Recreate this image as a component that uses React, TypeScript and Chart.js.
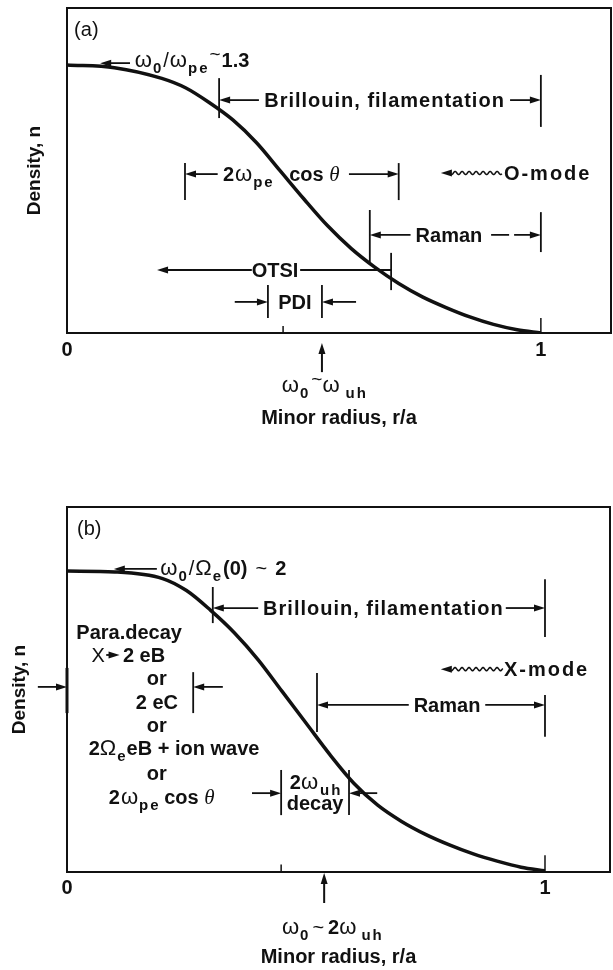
import React, { useEffect, useRef } from 'react';
import { Chart, registerables } from 'chart.js';

Chart.register(...registerables);

const SANS = '"Liberation Sans", Arial, sans-serif';

// ---------- data ----------
const radius = [0, 0.1, 0.2, 0.25, 0.3, 0.35, 0.4, 0.45, 0.5, 0.55, 0.6, 0.65, 0.7, 0.75, 0.8, 0.85, 0.9, 0.95, 1.0];
const densityA = [1.0, 0.99, 0.95, 0.915, 0.86, 0.795, 0.71, 0.605, 0.5, 0.4, 0.315, 0.245, 0.185, 0.135, 0.095, 0.06, 0.032, 0.012, 0.0];
const densityB = [1.0, 0.997, 0.975, 0.935, 0.87, 0.795, 0.705, 0.6, 0.495, 0.39, 0.295, 0.222, 0.168, 0.125, 0.09, 0.06, 0.036, 0.016, 0.004];
const xTickValues = [0, 1];
const xTickLabels = ['0', '1'];
const xTitle = 'Minor radius, r/a';
const yTitle = 'Density, n';
const Y_MAX = 1.2127;

type K = 'b' | 'n' | 'g' | 'sub' | 'til' | 'th';
type Part = { t: string; k?: K; pre?: number; ls?: number };
type Item =
  | { type: 'text'; r: number; n: number; parts: Part[]; align?: 'left' | 'center'; ls?: number }
  | { type: 'bar'; r: number; n0: number; n1: number; w?: number }
  | { type: 'arrow'; r0: number; r1: number; n: number; dash?: boolean }
  | { type: 'line'; r0: number; r1: number; n: number }
  | { type: 'varrow'; r: number; n0: number; n1: number }
  | { type: 'wave'; r0: number; r1: number; n: number }
  | { type: 'tick'; r: number; n: number };

const T = (t: string, k: K = 'b', pre?: number): Part => ({ t, k, pre });

// ---------- annotations (data coordinates) ----------
const annotationsA: Item[] = [
  { type: 'text', r: 0.015, n: 1.134, align: 'left', parts: [T('(a)', 'n')] },
  { type: 'arrow', r0: 0.133, r1: 0.07, n: 1.007 },
  { type: 'text', r: 0.143, n: 1.019, align: 'left', parts: [T('ω', 'g'), T('0', 'sub'), T('/', 'n', 2), T('ω', 'g', 1), T('pe', 'sub'), T('~', 'til', 2), T('1.3', 'b', 1)] },
  { type: 'bar', r: 0.321, n0: 0.802, n1: 0.951 },
  { type: 'bar', r: 1.0, n0: 0.769, n1: 0.963 },
  { type: 'arrow', r0: 0.405, r1: 0.321, n: 0.869 },
  { type: 'text', r: 0.669, n: 0.869, ls: 1, parts: [T('Brillouin, filamentation')] },
  { type: 'arrow', r0: 0.935, r1: 1.0, n: 0.869 },
  { type: 'bar', r: 0.249, n0: 0.496, n1: 0.634 },
  { type: 'bar', r: 0.70, n0: 0.496, n1: 0.634 },
  { type: 'arrow', r0: 0.318, r1: 0.249, n: 0.593 },
  { type: 'text', r: 0.329, n: 0.593, align: 'left', parts: [T('2'), T('ω', 'g', 1), T('pe', 'sub')] },
  { type: 'text', r: 0.469, n: 0.593, align: 'left', parts: [T('cos '), T('θ', 'th')] },
  { type: 'arrow', r0: 0.595, r1: 0.70, n: 0.593 },
  { type: 'wave', r0: 0.789, r1: 0.918, n: 0.597 },
  { type: 'text', r: 0.922, n: 0.597, align: 'left', ls: 2, parts: [T('O-mode')] },
  { type: 'bar', r: 0.639, n0: 0.265, n1: 0.459 },
  { type: 'bar', r: 1.0, n0: 0.302, n1: 0.451 },
  { type: 'arrow', r0: 0.725, r1: 0.639, n: 0.366 },
  { type: 'text', r: 0.806, n: 0.366, parts: [T('Raman')] },
  { type: 'arrow', r0: 0.895, r1: 1.0, n: 0.366, dash: true },
  { type: 'arrow', r0: 0.39, r1: 0.19, n: 0.235 },
  { type: 'text', r: 0.439, n: 0.235, parts: [T('OTSI')] },
  { type: 'line', r0: 0.492, r1: 0.684, n: 0.235 },
  { type: 'bar', r: 0.684, n0: 0.16, n1: 0.299 },
  { type: 'bar', r: 0.424, n0: 0.056, n1: 0.179 },
  { type: 'bar', r: 0.538, n0: 0.056, n1: 0.179 },
  { type: 'arrow', r0: 0.354, r1: 0.424, n: 0.116 },
  { type: 'arrow', r0: 0.61, r1: 0.538, n: 0.116 },
  { type: 'text', r: 0.481, n: 0.116, parts: [T('PDI')] },
  { type: 'tick', r: 0.456, n: 0.026 },
  { type: 'tick', r: 1.0, n: 0.056 },
  { type: 'varrow', r: 0.538, n0: -0.146, n1: -0.037 },
  { type: 'text', r: 0.542, n: -0.194, parts: [T('ω', 'g'), T('0', 'sub'), T('~', 'til', 3), T('ω', 'g'), T('uh', 'sub', 6)] },
];

const annotationsB: Item[] = [
  { type: 'text', r: 0.021, n: 1.143, align: 'left', parts: [T('(b)', 'n')] },
  { type: 'arrow', r0: 0.188, r1: 0.098, n: 1.007 },
  { type: 'text', r: 0.195, n: 1.01, align: 'left', parts: [T('ω', 'g'), T('0', 'sub'), T('/', 'n', 2), T('Ω', 'g', 1), T('e', 'sub'), T('(0)', 'b', 2), T('~', 'n', 8), T('2', 'b', 8)] },
  { type: 'bar', r: 0.305, n0: 0.827, n1: 0.947 },
  { type: 'bar', r: 1.0, n0: 0.781, n1: 0.973 },
  { type: 'arrow', r0: 0.4, r1: 0.305, n: 0.877 },
  { type: 'text', r: 0.661, n: 0.877, ls: 1, parts: [T('Brillouin, filamentation')] },
  { type: 'arrow', r0: 0.918, r1: 1.0, n: 0.877 },
  { type: 'text', r: 0.13, n: 0.797, parts: [T('Para.decay')] },
  { type: 'text', r: 0.065, n: 0.721, parts: [T('X', 'n')] },
  { type: 'arrow', r0: 0.082, r1: 0.11, n: 0.721 },
  { type: 'text', r: 0.117, n: 0.721, align: 'left', parts: [T('2 eB')] },
  { type: 'text', r: 0.188, n: 0.645, parts: [T('or')] },
  { type: 'text', r: 0.188, n: 0.565, parts: [T('2 eC')] },
  { type: 'text', r: 0.188, n: 0.488, parts: [T('or')] },
  { type: 'text', r: 0.224, n: 0.412, parts: [T('2'), T('Ω', 'g'), T('e', 'sub'), T('eB + ion wave', 'b', 1)] },
  { type: 'text', r: 0.188, n: 0.329, parts: [T('or')] },
  { type: 'text', r: 0.198, n: 0.249, parts: [T('2'), T('ω', 'g', 1), T('pe', 'sub'), T(' cos '), T('θ', 'th')] },
  { type: 'bar', r: 0, n0: 0.528, n1: 0.678, w: 3 },
  { type: 'arrow', r0: -0.061, r1: 0, n: 0.615 },
  { type: 'bar', r: 0.264, n0: 0.528, n1: 0.664 },
  { type: 'arrow', r0: 0.326, r1: 0.264, n: 0.615 },
  { type: 'wave', r0: 0.782, r1: 0.912, n: 0.674 },
  { type: 'text', r: 0.914, n: 0.674, align: 'left', ls: 2, parts: [T('X-mode')] },
  { type: 'bar', r: 0.523, n0: 0.465, n1: 0.661 },
  { type: 'bar', r: 1.0, n0: 0.449, n1: 0.588 },
  { type: 'arrow', r0: 0.715, r1: 0.523, n: 0.555 },
  { type: 'text', r: 0.795, n: 0.555, parts: [T('Raman')] },
  { type: 'arrow', r0: 0.875, r1: 1.0, n: 0.555 },
  { type: 'bar', r: 0.448, n0: 0.189, n1: 0.339 },
  { type: 'bar', r: 0.59, n0: 0.189, n1: 0.339 },
  { type: 'arrow', r0: 0.387, r1: 0.448, n: 0.262 },
  { type: 'arrow', r0: 0.649, r1: 0.59, n: 0.262 },
  { type: 'text', r: 0.519, n: 0.299, parts: [T('2'), T('ω', 'g'), T('uh', 'sub', 2)] },
  { type: 'text', r: 0.519, n: 0.229, parts: [T('decay')] },
  { type: 'tick', r: 0.448, n: 0.025 },
  { type: 'tick', r: 1.0, n: 0.056 },
  { type: 'varrow', r: 0.538, n0: -0.103, n1: -0.003 },
  { type: 'text', r: 0.554, n: -0.183, parts: [T('ω', 'g'), T('0', 'sub'), T('~', 'n', 4), T('2', 'b', 4), T('ω', 'g'), T('uh', 'sub', 5)] },
];

// ---------- drawing helpers ----------
function fontFor(k?: K) {
  switch (k) {
    case 'n': return `20px ${SANS}`;
    case 'g': return `22px ${SANS}`;
    case 'sub': return `bold 15px ${SANS}`;
    case 'til': return `19px ${SANS}`;
    case 'th': return `italic 21px "Liberation Serif", serif`;
    default: return `bold 20px ${SANS}`;
  }
}
function dyFor(k?: K) {
  if (k === 'sub') return 6;
  if (k === 'til') return -7;
  return 0;
}

function partLayout(ctx: CanvasRenderingContext2D, p: Part, itemLs: number) {
  ctx.font = fontFor(p.k);
  const ls = p.ls ?? (p.k === 'sub' ? 2 : itemLs);
  const pre = p.pre ?? (p.k === 'sub' ? 1 : 0);
  const chars = Array.from(p.t);
  const cw = chars.map((c) => ctx.measureText(c).width);
  const w = ls === 0 ? ctx.measureText(p.t).width : cw.reduce((s, v) => s + v, 0) + ls * (chars.length - 1);
  return { ls, pre, chars, cw, w };
}

function drawRich(ctx: CanvasRenderingContext2D, x: number, yc: number, parts: Part[], align: 'left' | 'center', itemLs = 0) {
  const lay = parts.map((p) => partLayout(ctx, p, itemLs));
  const total = lay.reduce((s, l) => s + l.pre + l.w, 0);
  let cx = align === 'center' ? x - total / 2 : x;
  const base = yc + 7;
  ctx.textAlign = 'left';
  ctx.textBaseline = 'alphabetic';
  parts.forEach((p, i) => {
    const l = lay[i];
    ctx.font = fontFor(p.k);
    cx += l.pre;
    if (l.ls === 0) {
      ctx.fillText(p.t, cx, base + dyFor(p.k));
    } else {
      let px = cx;
      l.chars.forEach((c, j) => {
        ctx.fillText(c, px, base + dyFor(p.k));
        px += l.cw[j] + l.ls;
      });
    }
    cx += l.w;
  });
}

function head(ctx: CanvasRenderingContext2D, tx: number, ty: number, dx: number, dy: number) {
  const L = 11, W = 3.5;
  const bx = tx - dx * L, by = ty - dy * L;
  ctx.beginPath();
  ctx.moveTo(tx, ty);
  ctx.lineTo(bx - dy * W, by + dx * W);
  ctx.lineTo(bx + dy * W, by - dx * W);
  ctx.closePath();
  ctx.fill();
}

function makeAnnotPlugin(items: Item[]) {
  return {
    id: 'annots',
    afterDraw(chart: any) {
      const { ctx, chartArea: ca, scales } = chart;
      const X = (v: number) => scales.x.getPixelForValue(v);
      const Y = (v: number) => scales.y.getPixelForValue(v);
      ctx.save();
      ctx.strokeStyle = '#111';
      ctx.fillStyle = '#111';
      ctx.lineWidth = 2;
      ctx.strokeRect(ca.left, ca.top, ca.right - ca.left, ca.bottom - ca.top);
      for (const a of items) {
        ctx.setLineDash([]);
        ctx.lineWidth = 1.8;
        if (a.type === 'text') {
          drawRich(ctx, X(a.r), Y(a.n), a.parts, a.align || 'center', a.ls || 0);
        } else if (a.type === 'bar') {
          ctx.lineWidth = a.w || 1.8;
          ctx.beginPath();
          ctx.moveTo(X(a.r), Y(a.n0));
          ctx.lineTo(X(a.r), Y(a.n1));
          ctx.stroke();
        } else if (a.type === 'tick') {
          ctx.lineWidth = 1.5;
          ctx.beginPath();
          ctx.moveTo(X(a.r), Y(0));
          ctx.lineTo(X(a.r), Y(a.n));
          ctx.stroke();
        } else if (a.type === 'arrow' || a.type === 'line') {
          const x0 = X(a.r0), x1 = X(a.r1), y = Y(a.n);
          const dir = x1 > x0 ? 1 : -1;
          if (a.type === 'arrow' && a.dash) ctx.setLineDash([18, 5]);
          ctx.beginPath();
          ctx.moveTo(x0, y);
          ctx.lineTo(a.type === 'arrow' ? x1 - dir * 8 : x1, y);
          ctx.stroke();
          ctx.setLineDash([]);
          if (a.type === 'arrow') head(ctx, x1, y, dir, 0);
        } else if (a.type === 'varrow') {
          const x = X(a.r), y0 = Y(a.n0), y1 = Y(a.n1);
          const dir = y1 > y0 ? 1 : -1;
          ctx.lineWidth = 2;
          ctx.beginPath();
          ctx.moveTo(x, y0);
          ctx.lineTo(x, y1 - dir * 8);
          ctx.stroke();
          head(ctx, x, y1, 0, dir);
        } else if (a.type === 'wave') {
          const x0 = X(a.r0), x1 = X(a.r1), y = Y(a.n);
          const dir = x1 > x0 ? 1 : -1;
          head(ctx, x0, y, -dir, 0);
          ctx.lineWidth = 1.5;
          ctx.beginPath();
          const start = x0 + dir * 9;
          const len = Math.abs(x1 - start);
          for (let t = 0; t <= len; t += 0.5) {
            const px = start + dir * t;
            const py = y + 1.6 * Math.sin((2 * Math.PI * t) / 7);
            if (t === 0) ctx.moveTo(px, py); else ctx.lineTo(px, py);
          }
          ctx.stroke();
        }
      }
      ctx.restore();
    },
  };
}

type PanelProps = {
  top: number; height: number; density: number[]; xMax: number; padTop: number; padRight: number;
  xScaleHeight: number; titlePadBottom: number; yTitlePad: number; tickPad: number; items: Item[];
};

function Panel(p: PanelProps) {
  const ref = useRef<HTMLCanvasElement>(null);
  useEffect(() => {
    const chart = new Chart(ref.current as HTMLCanvasElement, {
      type: 'line',
      data: {
        datasets: [{
          data: radius.map((r, i) => ({ x: r, y: p.density[i] })),
          borderColor: '#111',
          borderWidth: 3.5,
          pointRadius: 0,
          fill: false,
          cubicInterpolationMode: 'monotone',
        }],
      },
      options: {
        animation: false,
        responsive: false,
        devicePixelRatio: 1,
        layout: { padding: { top: p.padTop, right: p.padRight, left: 0, bottom: 0 } },
        plugins: { legend: { display: false }, tooltip: { enabled: false } },
        scales: {
          x: {
            type: 'linear', min: 0, max: p.xMax,
            afterBuildTicks: (s: any) => { s.ticks = xTickValues.map((v) => ({ value: v })); },
            afterFit: (s: any) => { s.height = p.xScaleHeight; },
            grid: { display: false, drawTicks: false },
            border: { display: false },
            ticks: {
              color: '#111', padding: p.tickPad, maxRotation: 0, autoSkip: false,
              font: { family: SANS, size: 20, weight: 'bold' },
              callback: (v: any) => xTickLabels[xTickValues.indexOf(Number(v))] ?? '',
            },
            title: {
              display: true, text: xTitle, color: '#111',
              font: { family: SANS, size: 20, weight: 'bold' },
              padding: { top: 0, bottom: p.titlePadBottom },
            },
          },
          y: {
            type: 'linear', min: 0, max: Y_MAX,
            afterFit: (s: any) => { s.width = 67; },
            grid: { display: false, drawTicks: false },
            border: { display: false },
            ticks: { display: false },
            title: {
              display: true, text: yTitle, color: '#111',
              font: { family: SANS, size: 19, weight: 'bold' },
              padding: { top: p.yTitlePad, bottom: 0 },
            },
          },
        },
      } as any,
      plugins: [makeAnnotPlugin(p.items)],
    });
    return () => chart.destroy();
  }, []);
  return (
    <canvas
      ref={ref}
      width={613}
      height={p.height}
      style={{ position: 'absolute', left: 0, top: p.top, width: 613, height: p.height }}
    />
  );
}

export default function App() {
  return (
    <div style={{ position: 'absolute', left: 0, top: 0, width: 613, height: 970, background: '#fff', overflow: 'hidden' }}>
      <Panel top={0} height={470} density={densityA} xMax={1.148} padTop={8} padRight={2}
        xScaleHeight={137} titlePadBottom={40} yTitlePad={23.6} tickPad={5} items={annotationsA} />
      <Panel top={470} height={500} density={densityB} xMax={1.136} padTop={37} padRight={3}
        xScaleHeight={98} titlePadBottom={1} yTitlePad={8.6} tickPad={4} items={annotationsB} />
    </div>
  );
}
